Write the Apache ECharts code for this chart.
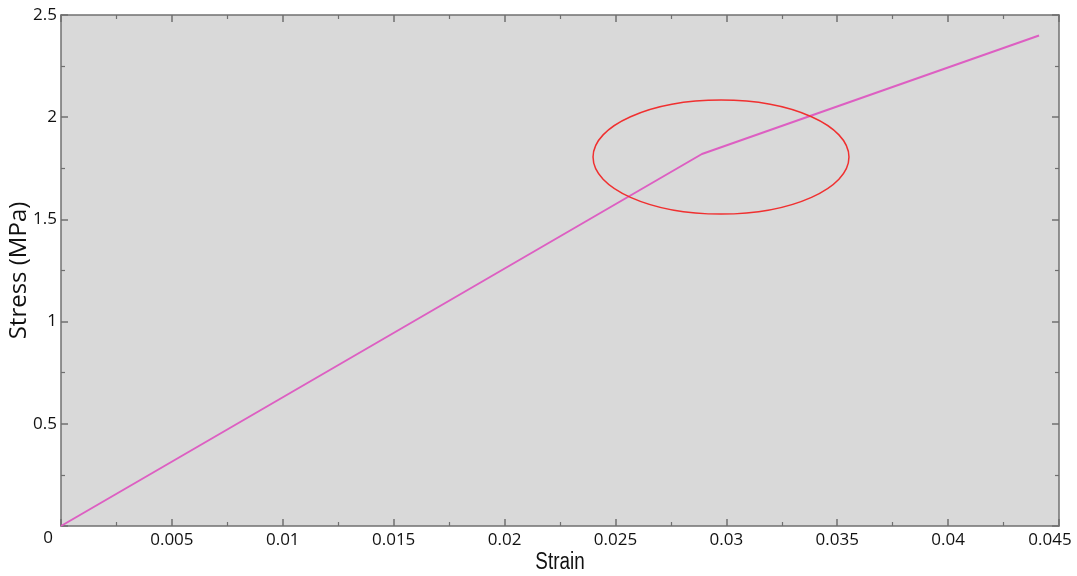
<!DOCTYPE html>
<html lang="en">
<head>
  <meta charset="UTF-8">
  <title>Stress-Strain</title>
  <script src="https://cdn.jsdelivr.net/npm/echarts@6/dist/echarts.min.js"></script>
  <style>
    html, body { margin: 0; padding: 0; background: #fff; }
    #chart { width: 1077px; height: 576px; }
  </style>
</head>
<body>
  <div id="chart"></div>
  <script>
    // data
    const strain = [0, 0.0289, 0.0441];
    const stress = [0, 1.82, 2.40];
    // annotation ellipse (data coords): centre and half axes
    const ringCenter = [0.02976, 1.805];
    const ringRadius = [0.00577, 0.279];

    const tickFont = { color: '#111', fontSize: 17, fontFamily: 'Open Sans' };
    const axisGrey = '#707070';

    function frameAxis(extra) {
      return Object.assign({
        type: 'value',
        axisLine: { show: true, onZero: false, lineStyle: { color: axisGrey, width: 1.5 } },
        axisTick: { show: true, inside: true, length: 7, lineStyle: { color: axisGrey, width: 1.5 } },
        minorTick: { show: true, splitNumber: 2, length: 4, lineStyle: { color: axisGrey, width: 1.2 } },
        splitLine: { show: false },
        minorSplitLine: { show: false }
      }, extra);
    }

    const chart = echarts.init(document.getElementById('chart'));
    chart.setOption({
      backgroundColor: '#fff',
      animation: false,
      grid: {
        left: 61, right: 18, top: 15, bottom: 50,
        containLabel: false, outerBoundsMode: 'none',
        show: true, backgroundColor: '#d9d9d9', borderWidth: 0
      },
      xAxis: [
        frameAxis({
          position: 'bottom', min: 0, max: 0.045, interval: 0.005,
          axisLabel: Object.assign({
            margin: 6, showMinLabel: false,
            // the last label sits a little left of its tick
            formatter: v => (v >= 0.045 ? '{last|' + v + '}' : String(v)),
            rich: { last: { fontSize: 17, fontFamily: 'Open Sans', color: '#111', padding: [0, 18, 0, 0] } }
          }, tickFont)
        }),
        frameAxis({
          position: 'top', min: 0, max: 0.045, interval: 0.005,
          axisLabel: { show: false }
        })
      ],
      yAxis: [
        frameAxis({
          position: 'left', min: 0, max: 2.5, interval: 0.5,
          name: 'Stress (MPa)', nameLocation: 'middle', nameGap: 30, nameMoveOverlap: false,
          nameTextStyle: { color: '#111', fontSize: 24, fontFamily: 'Open Sans' },
          axisLabel: Object.assign({ margin: 4, showMinLabel: false }, tickFont)
        }),
        frameAxis({
          position: 'right', min: 0, max: 2.5, interval: 0.5,
          axisLabel: { show: false }
        })
      ],
      series: [{
        type: 'line',
        data: strain.map((s, i) => [s, stress[i]]),
        symbol: 'none',
        lineStyle: { color: '#dd5fc2', width: 2 },
        z: 3
      }]
    });

    // origin label, narrow x title and the red ring, placed through the axes
    const c = chart.convertToPixel({ gridIndex: 0 }, ringCenter);
    const e = chart.convertToPixel({ gridIndex: 0 }, [ringCenter[0] + ringRadius[0], ringCenter[1] + ringRadius[1]]);
    const o = chart.convertToPixel({ gridIndex: 0 }, [0, 0]);
    const mid = chart.convertToPixel({ gridIndex: 0 }, [0.0225, 0]);
    chart.setOption({
      graphic: [
        {
          type: 'ellipse',
          shape: { cx: c[0], cy: c[1], rx: e[0] - c[0], ry: c[1] - e[1] },
          style: { fill: 'none', stroke: '#f03030', lineWidth: 1.5 },
          z: 10
        },
        {
          type: 'text',
          x: o[0] - 13, y: o[1] + 12,
          style: { text: '0', fill: '#111', font: '17px "Open Sans"', textAlign: 'center', textVerticalAlign: 'middle' },
          z: 10
        },
        {
          type: 'text',
          x: mid[0], y: o[1] + 37,
          scaleX: 0.82,
          style: { text: 'Strain', fill: '#111', font: '23px "Liberation Sans"', textAlign: 'center', textVerticalAlign: 'middle' },
          z: 10
        }
      ]
    });
  </script>
</body>
</html>
